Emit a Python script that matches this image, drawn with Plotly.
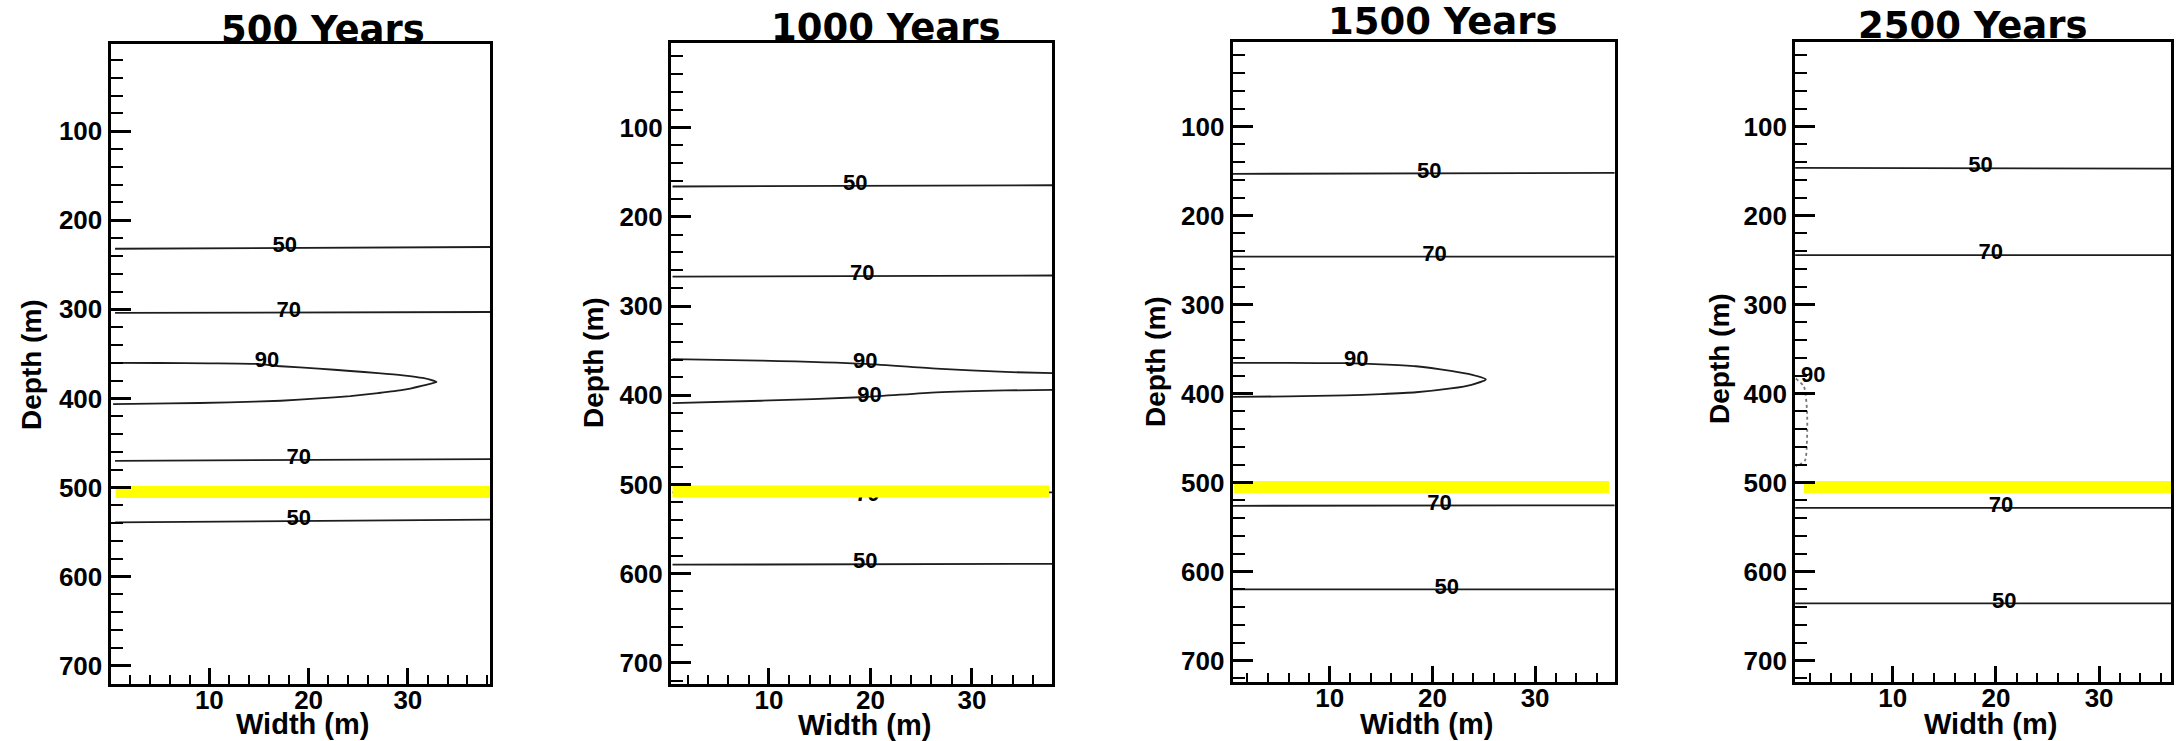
import plotly.graph_objects as go

W, H = 2177, 741

# ---------------- data ----------------
panel_titles = ["500 Years", "1000 Years", "1500 Years", "2500 Years"]
depth_ticks = [100, 200, 300, 400, 500, 600, 700]
width_ticks = [10, 20, 30]

# horizontal contour lines: [depth at left edge, depth at right edge]
p1_50a = [232, 230]
p1_70a = [304, 303]
p1_70b = [470, 468]
p1_50b = [539, 536]
p2_50a = [166, 164.6]
p2_70a = [267, 265.8]
p2_70b = [509, 509]
p2_50b = [590, 589]
p3_50a = [153, 152]
p3_70a = [246, 246]
p3_70b = [526, 525.5]
p3_50b = [620, 620]
p4_50a = [146.2, 147.2]
p4_70a = [244.4, 244.4]
p4_70b = [528.4, 528.4]
p4_50b = [635.7, 635.7]
line_x = [0.5, 38.5]

# 90 contours
p1_90_x = [0.3, 5, 10, 14.7, 17.2, 21, 24.2, 27, 29.5, 31.5, 32.9,
           31.5, 29.5, 27, 24.2, 21, 17.2, 12, 6, 0.3]
p1_90_d = [360, 360.2, 360.6, 361.3, 363.9, 366.5, 369.2, 371.5, 374, 377, 381.5,
           385.5, 390.5, 394, 397.3, 400, 402.6, 404.5, 405.6, 406.3]
p2_90a_x = [0.5, 9.2, 19.5, 26.5, 33.3, 38.5]
p2_90a_d = [359.6, 361.2, 364.9, 370.2, 373.9, 375.5]
p2_90b_x = [0.5, 9.2, 19.5, 26.5, 33.3, 38.5]
p2_90b_d = [408.9, 406.2, 402, 396.7, 394.6, 394]
p3_90_x = [0.6, 6, 11.5, 15, 18.4, 21.8, 23.8, 25.2,
           23.8, 21.8, 18.4, 15, 11.5, 6, 0.6]
p3_90_d = [365.5, 365.5, 365.8, 367, 369.2, 374.5, 378.7, 384,
           390, 394.1, 398.4, 400.5, 402, 403, 403.7]
p4_90_x = [0.6, 1.4, 1.7, 1.7, 1.5, 0.6]
p4_90_d = [383, 392, 420, 450, 475, 482]

# contour labels: text, width, depth
p1_lab_text = ["50", "70", "90", "70", "50"]
p1_lab_x = [17.6, 18, 15.8, 19, 19]
p1_lab_d = [229, 302, 358.5, 467, 535.5]
p2_lab_text = ["50", "70", "90", "90", "70", "50"]
p2_lab_x = [18.5, 19.2, 19.5, 19.9, 19.7, 19.5]
p2_lab_d = [164, 265, 363.5, 401, 512, 588]
p3_lab_text = ["50", "70", "90", "70", "50"]
p3_lab_x = [19.7, 20.2, 12.6, 20.7, 21.4]
p3_lab_d = [151, 244.5, 363, 524.5, 618.5]
p4_lab_text = ["50", "70", "90", "70", "50"]
p4_lab_x = [18.5, 19.5, 2.3, 20.5, 20.8]
p4_lab_d = [145, 243, 380.7, 527, 634.5]

# yellow marker line (depth, x start, x end)
yellow_depth = [505, 508, 505, 505]
yellow_x0 = [0.56, 0.5, 0.7, 1.4]
yellow_x1 = [38.5, 37.6, 37.2, 38.5]

# ---------------- layout geometry (pixels) ----------------
box_left = [110.5, 671, 1232.6, 1795.2]
box_right = [490, 1052.3, 1614.6, 2171]
box_top = [44, 42.5, 41.6, 41.6]
box_bottom = [684, 683.8, 682, 682]
x_ranges = [[0.04, 38.28], [0.35, 37.92], [0.55, 37.74], [0.55, 36.97]]
y_ranges = [[720.5, 2.2], [723.5, 4.6], [724, 4.4], [724, 4.4]]

title_cx = [323, 886, 1443, 1973]
title_cy = [29, 27, 22, 25.5]
depth_lab_cx = [31, 593, 1156, 1719]
depth_lab_cy = [365, 363, 362, 359]
width_lab_cx = [302, 864, 1426, 1990]
width_lab_cy = [724, 725, 724, 724]

fig = go.Figure()

hlines = [
    [p1_50a, p1_70a, p1_70b, p1_50b],
    [p2_50a, p2_70a, p2_70b, p2_50b],
    [p3_50a, p3_70a, p3_70b, p3_50b],
    [p4_50a, p4_70a, p4_70b, p4_50b],
]
loops = [
    [(p1_90_x, p1_90_d, "solid")],
    [(p2_90a_x, p2_90a_d, "solid"), (p2_90b_x, p2_90b_d, "solid")],
    [(p3_90_x, p3_90_d, "solid")],
    [(p4_90_x, p4_90_d, "dot")],
]
labels = [
    (p1_lab_text, p1_lab_x, p1_lab_d),
    (p2_lab_text, p2_lab_x, p2_lab_d),
    (p3_lab_text, p3_lab_x, p3_lab_d),
    (p4_lab_text, p4_lab_x, p4_lab_d),
]

line_col = "#1e1e1e"
for i in range(4):
    xa = "x" if i == 0 else f"x{i+1}"
    ya = "y" if i == 0 else f"y{i+1}"
    for d in hlines[i]:
        fig.add_trace(go.Scatter(x=line_x, y=d, mode="lines", xaxis=xa, yaxis=ya,
                                 line=dict(color=line_col, width=1.8),
                                 showlegend=False, hoverinfo="skip"))
    for lx, ld, dash in loops[i]:
        fig.add_trace(go.Scatter(x=lx, y=ld, mode="lines", xaxis=xa, yaxis=ya,
                                 line=dict(color=line_col if dash == "solid" else "#777",
                                           width=1.8, dash=dash, shape="spline",
                                           smoothing=0.6),
                                 showlegend=False, hoverinfo="skip"))
    t, lx, ld = labels[i]
    fig.add_trace(go.Scatter(x=lx, y=ld, text=t, mode="text", xaxis=xa, yaxis=ya,
                             textposition="middle center",
                             textfont=dict(family="Liberation Sans", size=22,
                                           color="black", weight="bold"),
                             showlegend=False, hoverinfo="skip"))
    fig.add_trace(go.Scatter(x=[yellow_x0[i], yellow_x1[i]],
                             y=[yellow_depth[i], yellow_depth[i]],
                             mode="lines", xaxis=xa, yaxis=ya,
                             line=dict(color="#ffff00", width=12),
                             showlegend=False, hoverinfo="skip"))

layout = dict(
    width=W, height=H,
    margin=dict(l=0, r=0, t=0, b=0),
    paper_bgcolor="white", plot_bgcolor="white",
    showlegend=False,
)
tickfont = dict(family="Liberation Sans", size=26, color="black", weight="bold")
for i in range(4):
    xk = "xaxis" if i == 0 else f"xaxis{i+1}"
    yk = "yaxis" if i == 0 else f"yaxis{i+1}"
    xa = "x" if i == 0 else f"x{i+1}"
    ya = "y" if i == 0 else f"y{i+1}"
    layout[xk] = dict(
        domain=[box_left[i] / W, box_right[i] / W],
        range=x_ranges[i], anchor=ya,
        showgrid=False, zeroline=False,
        showline=True, linecolor="black", linewidth=3, mirror=True,
        tickvals=width_ticks, ticktext=[str(v) for v in width_ticks],
        ticks="inside", ticklen=16, tickwidth=3, tickcolor="black",
        ticklabelstandoff=-9,
        minor=dict(dtick=2, tick0=0, ticks="inside", ticklen=9, tickwidth=2,
                   tickcolor="black", showgrid=False),
        tickfont=tickfont,
    )
    layout[yk] = dict(
        domain=[1 - box_bottom[i] / H, 1 - box_top[i] / H],
        range=y_ranges[i], anchor=xa,
        showgrid=False, zeroline=False,
        showline=True, linecolor="black", linewidth=3, mirror=True,
        tickvals=depth_ticks, ticktext=[str(v) for v in depth_ticks],
        ticks="inside", ticklen=20, tickwidth=3, tickcolor="black",
        minor=dict(dtick=20, tick0=0, ticks="inside", ticklen=12, tickwidth=2,
                   tickcolor="black", showgrid=False),
        tickfont=tickfont,
    )

ann = []
for i in range(4):
    ann.append(dict(text=panel_titles[i], x=title_cx[i] / W, y=1 - title_cy[i] / H,
                    xref="paper", yref="paper", showarrow=False,
                    xanchor="center", yanchor="middle",
                    font=dict(family="DejaVu Sans", size=37, color="black", weight="bold")))
    ann.append(dict(text="Depth (m)", x=depth_lab_cx[i] / W, y=1 - depth_lab_cy[i] / H,
                    xref="paper", yref="paper", showarrow=False, textangle=-90,
                    xanchor="center", yanchor="middle",
                    font=dict(family="Liberation Sans", size=28, color="black", weight="bold")))
    ann.append(dict(text="Width (m)", x=width_lab_cx[i] / W, y=1 - width_lab_cy[i] / H,
                    xref="paper", yref="paper", showarrow=False,
                    xanchor="center", yanchor="middle",
                    font=dict(family="Liberation Sans", size=29, color="black", weight="bold")))
layout["annotations"] = ann

fig.update_layout(**layout)
fig.write_html("out.html",
               config={"displayModeBar": False},
               post_script="document.body.style.margin='0';document.body.style.overflow='hidden';")
